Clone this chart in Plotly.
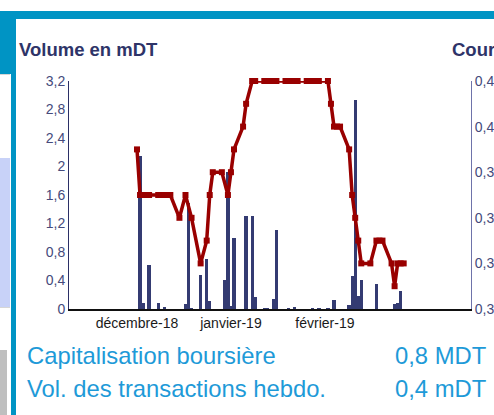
import plotly.graph_objects as go

# ---------------- data ----------------
bar_dates = [
    "2018-12-04", "2018-12-05", "2018-12-07", "2018-12-10", "2018-12-12",
    "2018-12-19", "2018-12-20", "2018-12-21", "2018-12-24", "2018-12-26",
    "2018-12-27", "2019-01-01", "2019-01-02", "2019-01-03", "2019-01-04",
    "2019-01-08", "2019-01-10", "2019-01-11", "2019-01-14", "2019-01-15",
    "2019-01-17", "2019-01-18", "2019-01-22", "2019-01-24", "2019-01-30",
    "2019-02-01", "2019-02-04", "2019-02-06", "2019-02-11", "2019-02-12",
    "2019-02-13", "2019-02-14", "2019-02-15", "2019-02-20", "2019-02-26",
    "2019-02-27", "2019-02-28",
]
bar_values = [
    2.15, 0.08, 0.62, 0.085, 0.025,
    0.07, 1.49, 0.01, 0.48, 0.70,
    0.11, 0.41, 1.92, 0.04, 1.00,
    1.30, 1.31, 0.17, 0.01, 0.01,
    0.14, 1.11, 0.01, 0.03, 0.01,
    0.01, 0.01, 0.125, 0.05, 0.46,
    2.93, 0.18, 0.41, 0.35, 0.07,
    0.08, 0.25,
]

price_dates = [
    "2018-12-03", "2018-12-04", "2018-12-05", "2018-12-06", "2018-12-07",
    "2018-12-10", "2018-12-11", "2018-12-12", "2018-12-13", "2018-12-14",
    "2018-12-17", "2018-12-19", "2018-12-21", "2018-12-24", "2018-12-26",
    "2018-12-27", "2018-12-28", "2018-12-31", "2019-01-02", "2019-01-03",
    "2019-01-04", "2019-01-07", "2019-01-08", "2019-01-10", "2019-01-11",
    "2019-01-14", "2019-01-15", "2019-01-16", "2019-01-17", "2019-01-18",
    "2019-01-21", "2019-01-22", "2019-01-23", "2019-01-24", "2019-01-25",
    "2019-01-28", "2019-01-29", "2019-01-30", "2019-01-31", "2019-02-01",
    "2019-02-04", "2019-02-05", "2019-02-06", "2019-02-07", "2019-02-08",
    "2019-02-11", "2019-02-12", "2019-02-13", "2019-02-14", "2019-02-15",
    "2019-02-18", "2019-02-20", "2019-02-21", "2019-02-22", "2019-02-25",
    "2019-02-26", "2019-02-27", "2019-02-28", "2019-03-01",
]
price_values = [
    0.39, 0.37, 0.37, 0.37, 0.37,
    0.37, 0.37, 0.37, 0.37, 0.37,
    0.36, 0.37, 0.36, 0.34, 0.35,
    0.37, 0.38, 0.38, 0.37, 0.38,
    0.39, 0.40, 0.41, 0.42, 0.42,
    0.42, 0.42, 0.42, 0.42, 0.42,
    0.42, 0.42, 0.42, 0.42, 0.42,
    0.42, 0.42, 0.42, 0.42, 0.42,
    0.42, 0.41, 0.40, 0.40, 0.40,
    0.39, 0.37, 0.36, 0.35, 0.34,
    0.34, 0.35, 0.35, 0.35, 0.34,
    0.33, 0.34, 0.34, 0.34,
]

month_ticks = ["2018-12-03", "2019-01-03", "2019-02-03"]
month_labels = ["décembre-18", "janvier-19", "février-19"]

vol_ticks = [0, 0.4, 0.8, 1.2, 1.6, 2.0, 2.4, 2.8, 3.2]
vol_labels = ["0", "0,4", "0,8", "1,2", "1,6", "2", "2,4", "2,8", "3,2"]

price_ticks = [0.32, 0.34, 0.36, 0.38, 0.40, 0.42]
price_labels = ["0,32", "0,34", "0,36", "0,38", "0,40", "0,42"]

x_range = ["2018-11-10 13:30", "2019-03-23 05:00"]

# ---------------- layout helpers (pixels -> paper) ----------------
W, H = 494, 415
PL, PR, PT, PB = 69, 471, 81, 309


def fx(px):
    return (px - PL) / (PR - PL)


def fy(py):
    return (PB - py) / (PB - PT)


FONT = "Liberation Sans, Arial, sans-serif"
NAVY = "#2E3468"
TEAL = "#0094C4"
BLUE_TXT = "#1E9AD8"

fig = go.Figure()
fig.add_trace(go.Bar(
    x=bar_dates, y=bar_values, width=86400000 * 1.1,
    marker=dict(color="#343B72", line=dict(width=0)),
    yaxis="y", showlegend=False,
))
fig.add_trace(go.Scatter(
    x=price_dates, y=price_values, mode="lines+markers",
    line=dict(color="#990000", width=3.5),
    marker=dict(symbol="square", size=6, color="#990000"),
    yaxis="y2", cliponaxis=False, showlegend=False,
))

shapes = []


def rect(x0, y0, x1, y1, color):
    shapes.append(dict(type="rect", xref="paper", yref="paper",
                       x0=fx(x0), x1=fx(x1), y0=fy(y1), y1=fy(y0),
                       fillcolor=color, line=dict(width=0), layer="above"))


rect(0, 11, W, 19, TEAL)
rect(0, 11, 16, 74, TEAL)
rect(11, 74, 16, H, TEAL)
rect(0, 158, 10, 308, "#C8D2F8")
rect(0, 74, 10, 75, "#D6D6D6")
rect(0, 307, 10, 308, "#D6D6D6")
rect(0, 350, 7, H, "#BFBFBF")

annotations = [
    dict(text="<b>Volume en mDT</b>", x=fx(17), y=fy(49), xanchor="left", yanchor="middle",
         font=dict(family=FONT, size=18.5, color=NAVY)),
    dict(text="<b>Cours en DT</b>", x=fx(450), y=fy(49), xanchor="left", yanchor="middle",
         font=dict(family=FONT, size=18.5, color=NAVY)),
    dict(text="Capitalisation boursière", x=fx(25), y=fy(355), xanchor="left", yanchor="middle",
         font=dict(family=FONT, size=23.8, color=BLUE_TXT)),
    dict(text="0,8 MDT", x=fx(488), y=fy(355), xanchor="right", yanchor="middle",
         font=dict(family=FONT, size=23.8, color=BLUE_TXT)),
    dict(text="Vol. des transactions hebdo.", x=fx(25), y=fy(388), xanchor="left", yanchor="middle",
         font=dict(family=FONT, size=23.8, color=BLUE_TXT)),
    dict(text="0,4 mDT", x=fx(488), y=fy(388), xanchor="right", yanchor="middle",
         font=dict(family=FONT, size=23.8, color=BLUE_TXT)),
]
for a in annotations:
    a.update(xref="paper", yref="paper", showarrow=False)

fig.update_layout(
    width=W, height=H,
    margin=dict(l=PL, r=W - PR, t=PT, b=H - PB, autoexpand=False),
    paper_bgcolor="white", plot_bgcolor="white",
    bargap=0,
    font=dict(family=FONT),
    xaxis=dict(type="date", range=x_range, tickvals=month_ticks, ticktext=month_labels,
               showline=True, linecolor="#111111", linewidth=1.5, ticks="",
               tickfont=dict(family=FONT, size=14, color="#1A1A1A"),
               showgrid=False, zeroline=False),
    yaxis=dict(range=[0, 3.2], tickvals=vol_ticks, ticktext=vol_labels,
               showline=True, linecolor="#2B2F66", linewidth=1, ticks="",
               tickfont=dict(family=FONT, size=14, color="#454A7C"),
               showgrid=False, zeroline=False),
    yaxis2=dict(range=[0.32, 0.42], tickvals=price_ticks, ticktext=price_labels,
                overlaying="y", side="right",
                showline=True, linecolor="#6E73AA", linewidth=1, ticks="",
                tickfont=dict(family=FONT, size=14, color="#454A7C"),
                showgrid=False, zeroline=False),
    shapes=shapes,
    annotations=annotations,
)

fig.write_html(
    "out.html",
    config={"displayModeBar": False},
    post_script="document.body.style.margin='0';document.body.style.overflow='hidden';",
)
